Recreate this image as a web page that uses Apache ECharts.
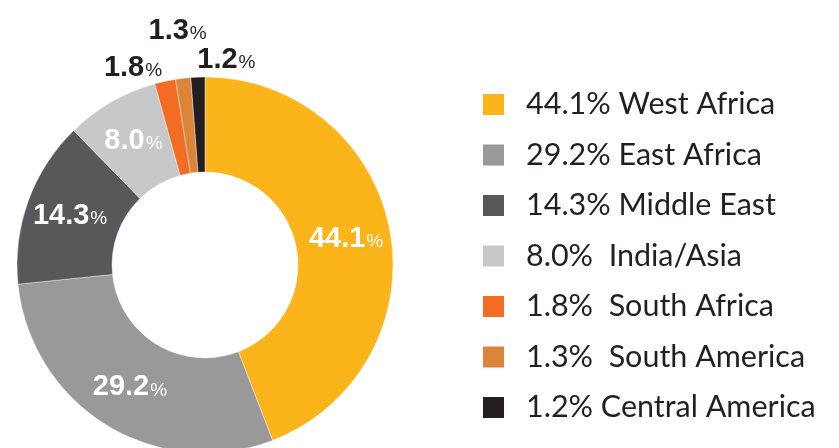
<!DOCTYPE html>
<html>
<head>
<meta charset="utf-8">
<script src="https://cdn.jsdelivr.net/npm/echarts@6/dist/echarts.min.js"></script>
<style>
  html, body { margin: 0; padding: 0; background: #fff; }
  #chart { width: 839px; height: 448px; }
</style>
</head>
<body>
<div id="chart"></div>
<script>
const regions = ["West Africa", "East Africa", "Middle East", "India/Asia", "South Africa", "South America", "Central America"];
const shares = [44.1, 29.2, 14.3, 8.0, 1.8, 1.3, 1.2];
const colors = ["#FBB51A", "#999999", "#58585A", "#C7C8CA", "#F26C23", "#DA853A", "#231F20"];
const legendText = ["44.1% West Africa", "29.2% East Africa", "14.3% Middle East", "8.0%  India/Asia", "1.8%  South Africa", "1.3%  South America", "1.2% Central America"];
// small slices get their label outside the ring
const outsideLen = [null, null, null, null, 14, 48, 17];

const numFont = '"Liberation Sans Narrow", "Liberation Sans", Arial, sans-serif';

const chart = echarts.init(document.getElementById("chart"));

const data = regions.map((name, i) => {
  const item = { name: name, value: shares[i], itemStyle: { color: colors[i] } };
  if (outsideLen[i] != null) {
    item.label = { position: "outside", color: "#231F20" };
    item.labelLine = { show: false, length: outsideLen[i], length2: 0 };
  }
  return item;
});

const option = {
  backgroundColor: "#fff",
  animation: false,
  legend: {
    orient: "vertical",
    left: 476,
    top: 84,
    itemWidth: 23,
    itemHeight: 23,
    itemGap: 19.5,
    icon: "rect",
    data: regions,
    formatter: (name) => legendText[regions.indexOf(name)],
    textStyle: {
      fontFamily: "Lato, sans-serif",
      fontSize: 30.5,
      lineHeight: 30,
      color: "#231F20",
      padding: [0, 0, 0, 16],
    },
  },
  series: [
    {
      type: "pie",
      center: [205, 265],
      radius: [93, 188],
      startAngle: 90,
      clockwise: true,
      avoidLabelOverlap: false,
      itemStyle: { borderColor: "#fff", borderWidth: 0.4 },
      label: {
        show: true,
        position: "inside",
        color: "#fff",
        distanceToLabelLine: 0,
        formatter: (p) => "{n|" + p.value.toFixed(1) + "}{p|%}",
        rich: {
          n: { fontFamily: numFont, fontWeight: "bold", fontSize: 29 },
          p: { fontFamily: numFont, fontSize: 19, verticalAlign: "bottom", padding: [0, 0, 2, 1] },
        },
      },
      labelLine: { show: false },
      labelLayout: (params) => {
        if (params.dataIndex === 6) return { align: "left" };
        if (params.dataIndex === 5) return { align: "center" };
        return {};
      },
      data: data,
    },
  ],
};

chart.setOption(option);
</script>
</body>
</html>
